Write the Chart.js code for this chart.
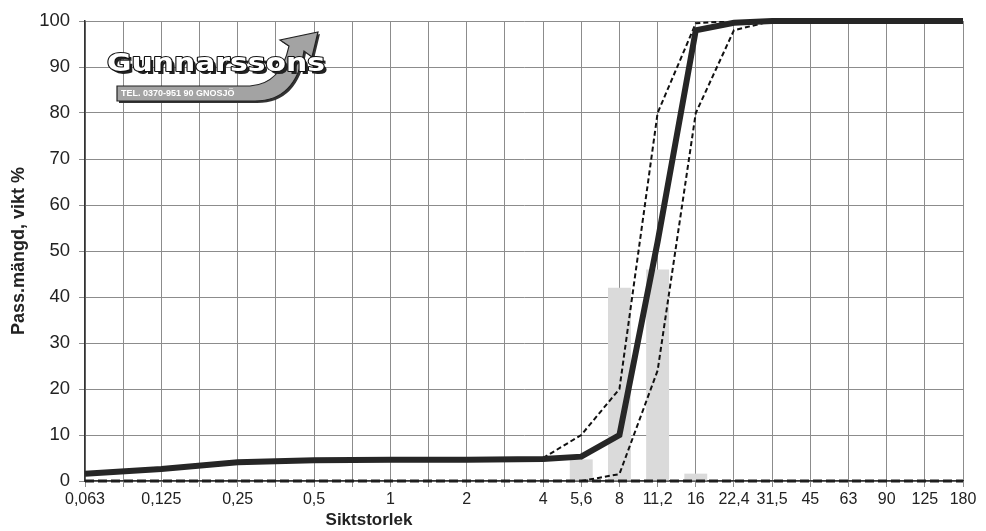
<!DOCTYPE html>
<html>
<head>
<meta charset="utf-8">
<script src="https://cdn.jsdelivr.net/npm/chart.js@4/dist/chart.umd.min.js"></script>
<style>
  html, body { margin: 0; padding: 0; background: #fff; }
  #wrap { width: 986px; height: 531px; position: relative; }
</style>
</head>
<body>
<div id="wrap"><canvas id="chart"></canvas></div>
<script>
// sieve sizes (mm); blank labels are the unlabelled grid lines
const sizes = ['0,063', '', '0,125', '', '0,25', '', '0,5', '', '1', '', '2', '', '4',
  '5,6', '8', '11,2', '16', '22,4', '31,5', '45', '63', '90', '125', '180'];

// passing, weight %
const passing = [1.6, null, 2.6, null, 4.1, null, 4.5, null, 4.6, null, 4.6, null, 4.8,
  5.3, 10, 52, 98, 99.6, 100, 100, 100, 100, 100, 100];

// grading envelope
const upperLimit = [null, null, null, null, null, null, null, null, null, null, null, null, 5,
  10, 20, 80, 99.5, 100, 100, 100, 100, 100, 100, 100];
const lowerLimit = [null, null, null, null, null, null, null, null, null, null, null, null, null,
  0, 1.5, 24, 80, 98, 100, 100, 100, 100, 100, 100];
const zeroLine = [0, 0, 0, 0, 0, 0, 0, 0, 0, 0, 0, 0, 0, 0, 0, 0, 0, 0, 0, 0, 0, 0, 0, 0];

// retained on each sieve, weight %
const retained = [null, null, null, null, null, null, null, null, null, null, null, null, null,
  4.7, 42, 46, 1.6, null, null, null, null, null, null, null];

const FONT = "'Liberation Sans', Arial, sans-serif";
Chart.defaults.font.family = FONT;
Chart.defaults.color = '#222';

const logo = {
  id: 'logo',
  afterDatasetsDraw(chart) {
    const ctx = chart.ctx;
    ctx.save();
    // arrow banner
    const band = () => {
      ctx.beginPath();
      ctx.moveTo(117, 86);
      ctx.lineTo(250, 86);
      ctx.quadraticCurveTo(281, 84, 289, 46);
      ctx.lineTo(280, 40);
      ctx.lineTo(318, 32);
      ctx.lineTo(312, 57);
      ctx.lineTo(304, 51);
      ctx.quadraticCurveTo(296, 101, 255, 101);
      ctx.lineTo(117, 101);
      ctx.closePath();
    };
    ctx.translate(2, 2);
    band();
    ctx.fillStyle = '#333';
    ctx.fill();
    ctx.translate(-2, -2);
    band();
    ctx.fillStyle = '#a3a3a3';
    ctx.fill();
    ctx.strokeStyle = '#222';
    ctx.lineWidth = 1.2;
    ctx.stroke();

    ctx.font = "bold 9px " + FONT;
    ctx.fillStyle = '#fff';
    ctx.textBaseline = 'middle';
    ctx.fillText('TEL. 0370-951 90 GNOSJÖ', 121, 94, 136);

    // name
    ctx.font = "bold 25px 'DejaVu Sans', sans-serif";
    const w = ctx.measureText('Gunnarssons').width;
    ctx.save();
    ctx.translate(107, 64);
    ctx.scale(218 / w, 1);
    ctx.textBaseline = 'middle';
    ctx.lineJoin = 'round';
    ctx.fillStyle = '#222';
    ctx.fillText('Gunnarssons', 2.5, 3);
    ctx.fillStyle = '#fff';
    ctx.strokeStyle = '#111';
    ctx.lineWidth = 2;
    ctx.strokeText('Gunnarssons', 0, 0);
    ctx.fillText('Gunnarssons', 0, 0);
    ctx.restore();
    ctx.restore();
  }
};

const xTitle = {
  id: 'xTitle',
  afterDraw(chart) {
    const ctx = chart.ctx;
    ctx.save();
    ctx.font = "bold 17px " + FONT;
    ctx.fillStyle = '#222';
    ctx.textAlign = 'center';
    ctx.textBaseline = 'middle';
    ctx.fillText('Siktstorlek', 369, 520);
    ctx.restore();
  }
};

const gridStyle = { color: '#8c8c8c', lineWidth: 1, tickLength: 6, offset: false };

new Chart(document.getElementById('chart'), {
  type: 'line',
  data: {
    labels: sizes,
    datasets: [
      {
        type: 'bar',
        data: retained,
        backgroundColor: '#dadada',
        borderWidth: 0,
        barPercentage: 0.6,
        categoryPercentage: 1,
        order: 5
      },
      {
        data: zeroLine,
        borderColor: '#1e1e1e',
        borderWidth: 3,
        borderDash: [9, 4],
        pointRadius: 0,
        clip: 6,
        order: 4
      },
      {
        data: lowerLimit,
        borderColor: '#111',
        borderWidth: 2,
        borderDash: [5, 3],
        pointRadius: 0,
        order: 3
      },
      {
        data: upperLimit,
        borderColor: '#111',
        borderWidth: 2,
        borderDash: [5, 3],
        pointRadius: 0,
        order: 2
      },
      {
        data: passing,
        borderColor: '#262626',
        borderWidth: 6,
        pointRadius: 0,
        spanGaps: true,
        borderJoinStyle: 'miter',
        clip: 6,
        order: 1
      }
    ]
  },
  options: {
    animation: false,
    responsive: true,
    maintainAspectRatio: false,
    devicePixelRatio: 1,
    layout: { padding: { top: 21, right: 23, left: 0, bottom: 0 } },
    scales: {
      x: {
        offset: false,
        grid: gridStyle,
        border: { color: '#333', width: 1.5 },
        ticks: { autoSkip: false, maxRotation: 0, font: { size: 16 }, padding: 3 },
        afterFit(s) { s.height = 50; }
      },
      y: {
        min: 0,
        max: 100,
        grid: gridStyle,
        border: { color: '#333', width: 1.5 },
        ticks: { stepSize: 10, font: { size: 18.5 }, padding: 9 },
        title: {
          display: true,
          text: 'Pass.mängd, vikt %',
          font: { size: 18, weight: 'bold' },
          padding: { top: 8, bottom: 0 }
        },
        afterFit(s) { s.width = 85; }
      }
    },
    plugins: {
      legend: { display: false },
      tooltip: { enabled: false }
    }
  },
  plugins: [logo, xTitle]
});
</script>
</body>
</html>
